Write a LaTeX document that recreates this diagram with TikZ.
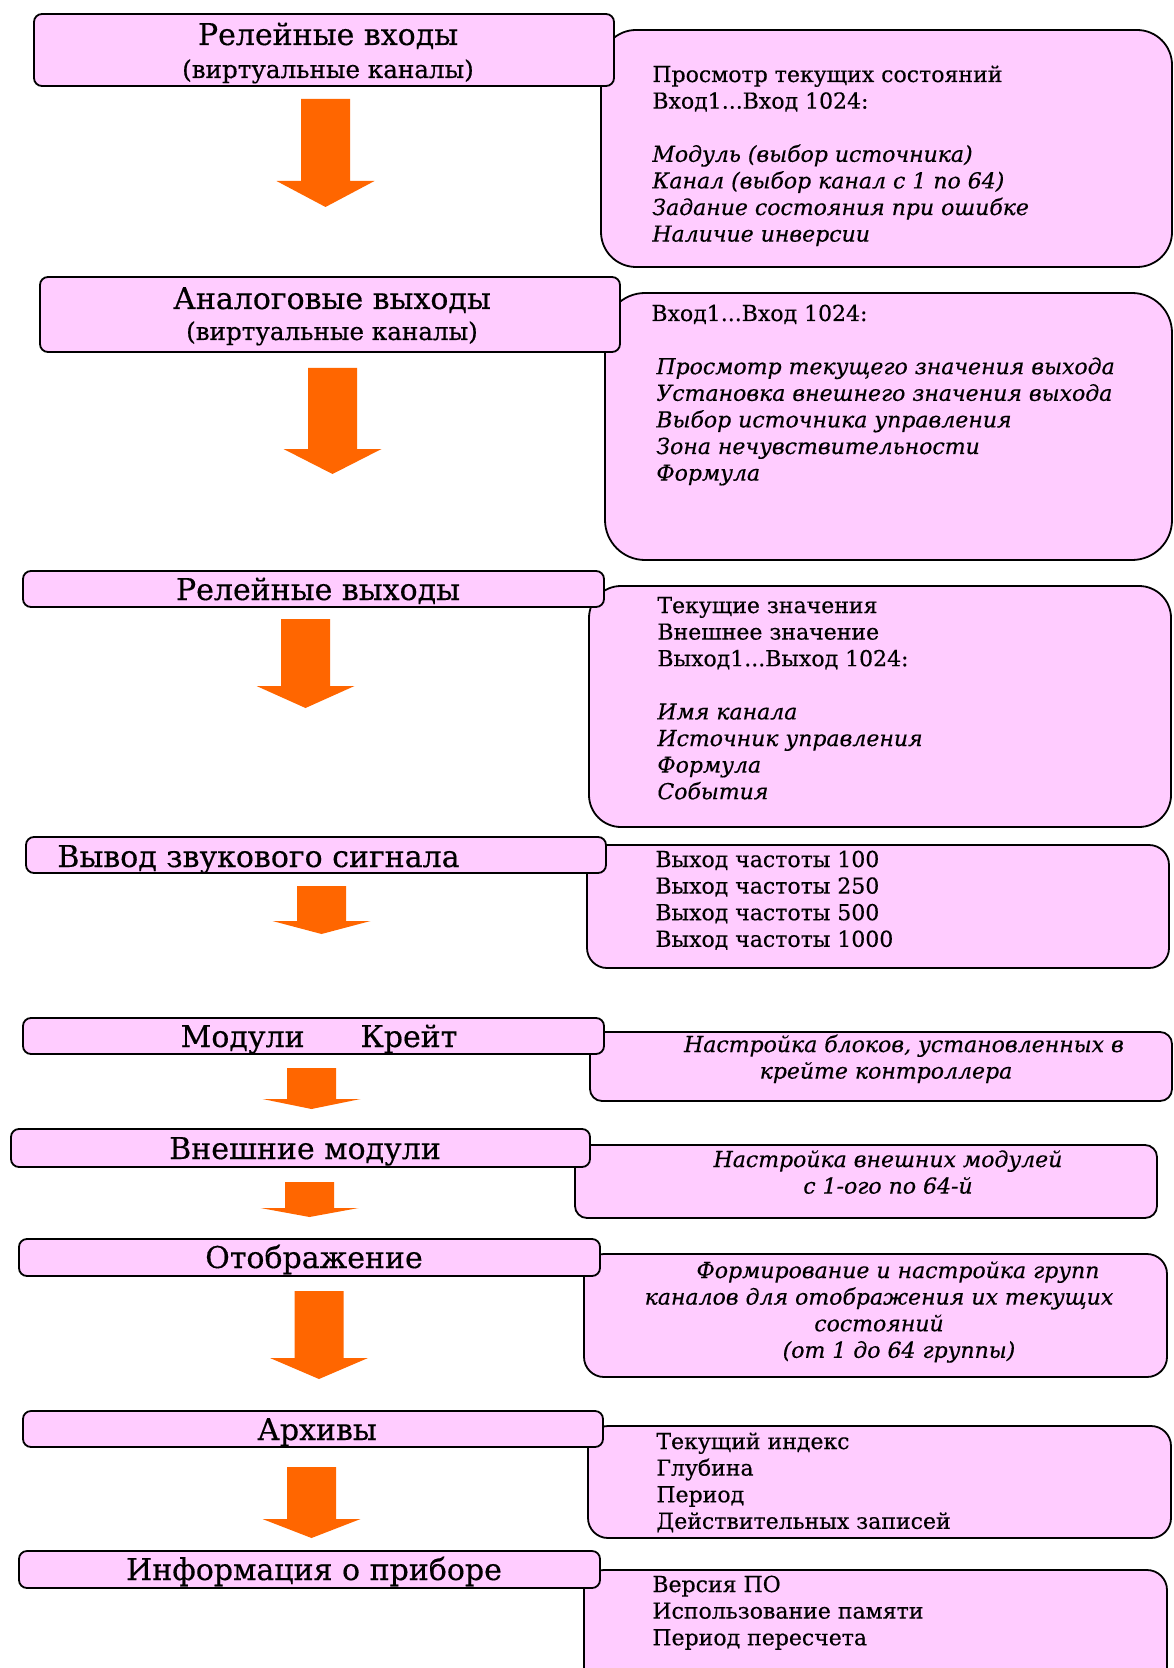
\documentclass[tikz,border=0pt]{standalone}
\usepackage{fontspec}
\setmainfont{DejaVu Serif}[FakeBold=0.4]
\definecolor{boxpink}{HTML}{FFCCFF}
\definecolor{arroworange}{HTML}{FF6600}
\newcommand{\lns}[1]{\begin{tabular}[t]{@{}l@{}}#1\end{tabular}}
\newcommand{\clns}[1]{\begin{tabular}[t]{@{}c@{}}#1\end{tabular}}
\newcommand{\shiftr}[2]{\hspace*{#1}#2\hspace*{-#1}}
% box node: name, style, x1, y1, x2, y2 (pixel units)
\newcommand{\pbox}[6]{\node[#2, minimum width={(#5-#3)*0.5pt}, minimum height={(#6-#4)*0.5pt}] (#1) at ({(#3+#5)/2},{(#4+#6)/2}) {};}
% block arrow: centre x, top y, head y, tip y
\newcommand{\barrow}[4]{\fill[arroworange] ({#1-24.5},#2) -- ({#1+24.5},#2) -- ({#1+24.5},#3) -- ({#1+49},#3) -- (#1,#4) -- ({#1-49},#3) -- ({#1-24.5},#3) -- cycle;}
\begin{document}
\begin{tikzpicture}[x=0.5pt,y=-0.5pt,
  leftbox/.style={draw=black, fill=boxpink, line width=0.9pt, rounded corners=4pt, inner sep=0pt},
  rightbox/.style={draw=black, fill=boxpink, line width=0.9pt, inner sep=0pt},
  titlefont/.style={font=\fontsize{15pt}{18pt}\selectfont, inner sep=0pt},
  subfont/.style={font=\fontsize{12.3pt}{14pt}\selectfont, inner sep=0pt},
  rtext/.style={font=\fontsize{11pt}{13.3pt}\selectfont, inner sep=0pt}]
\path[use as bounding box, clip] (0,0) rectangle (1173,1668);
\fill[white] (0,0) rectangle (1173,1668);

% right-hand boxes (behind)
\pbox{R1}{rightbox, rounded corners=17.5pt}{601}{30}{1172}{267}
\pbox{R2}{rightbox, rounded corners=20pt}{605}{293}{1172}{560}
\pbox{R3}{rightbox, rounded corners=16pt}{589}{586}{1171}{827}
\pbox{R4}{rightbox, rounded corners=10pt}{587}{845}{1169}{968}
\pbox{R5}{rightbox, rounded corners=6pt}{590}{1032}{1172}{1101}
\pbox{R6}{rightbox, rounded corners=6pt}{575}{1145}{1157}{1218}
\pbox{R7}{rightbox, rounded corners=10pt}{584}{1254}{1167}{1377}
\pbox{R8}{rightbox, rounded corners=10pt}{588}{1426}{1171}{1538}
\pbox{R9}{rightbox, rounded corners=10pt}{584}{1570}{1167}{1700}

% left-hand boxes
\pbox{L1}{leftbox}{34}{14}{614}{86}
\pbox{L2}{leftbox}{40}{277}{620}{352}
\pbox{L3}{leftbox}{23}{571}{604}{607}
\pbox{L4}{leftbox}{26}{837}{606}{873}
\pbox{L5}{leftbox}{23}{1018}{604}{1054}
\pbox{L6}{leftbox}{11}{1129}{590}{1167}
\pbox{L7}{leftbox}{19}{1239}{600}{1276}
\pbox{L8}{leftbox}{23}{1411}{603}{1447}
\pbox{L9}{leftbox}{19}{1551}{600}{1588}

% arrows
\barrow{325.5}{99}{181}{207}
\barrow{332.5}{368}{449}{474}
\barrow{305.5}{619}{686}{708}
\barrow{321.5}{886}{921}{934}
\barrow{311.5}{1068}{1099}{1109}
\barrow{309.5}{1182}{1208}{1217}
\barrow{319}{1291}{1358}{1379}
\barrow{311.5}{1467}{1519}{1538}

% left titles
\node[titlefont, anchor=base] (t1) at (328,45) {Релейные входы};
\node[subfont, anchor=base] (s1) at (328,78) {(виртуальные каналы)};
\node[titlefont, anchor=base] (t2) at (332,309) {Аналоговые выходы};
\node[subfont, anchor=base] (s2) at (332,340) {(виртуальные каналы)};
\node[titlefont, anchor=base] (t3) at (318,600) {Релейные выходы};
\node[titlefont, anchor=base west] (t4) at (57,867) {Вывод звукового сигнала};
\node[titlefont, anchor=base] (t5) at (319,1047) {Модули\hspace{28pt}Крейт};
\node[titlefont, anchor=base] (t6) at (305,1159) {Внешние модули};
\node[titlefont, anchor=base] (t7) at (314,1268) {Отображение};
\node[titlefont, anchor=base] (t8) at (317,1440) {Архивы};
\node[titlefont, anchor=base] (t9) at (314,1580) {Информация о приборе};

% right texts
\node[rtext, anchor=base west] (r1) at (652,82) {\lns{Просмотр текущих состояний\\Вход1...Вход 1024:\\ \\
  \itshape Модуль (выбор источника)\\ \itshape Канал (выбор канал с 1 по 64)\\
  \itshape Задание состояния при ошибке\\ \itshape Наличие инверсии}};
\node[rtext, anchor=base west] (r2) at (651,321) {\lns{Вход1...Вход 1024:\\ \\
  \hspace*{2.5pt}\itshape Просмотр текущего значения выхода\\
  \hspace*{2.5pt}\itshape Установка внешнего значения выхода\\
  \hspace*{2.5pt}\itshape Выбор источника управления\\
  \hspace*{2.5pt}\itshape Зона нечувствительности\\
  \hspace*{2.5pt}\itshape Формула}};
\node[rtext, anchor=base west] (r3) at (657,613) {\lns{Текущие значения\\Внешнее значение\\Выход1...Выход 1024:\\ \\
  \itshape Имя канала\\ \itshape Источник управления\\ \itshape Формула\\ \itshape События}};
\node[rtext, anchor=base west] (r4) at (655,867) {\lns{Выход частоты 100\\Выход частоты 250\\Выход частоты 500\\Выход частоты 1000}};
\node[rtext, anchor=base] (r5) at (886,1052) {\clns{\itshape\shiftr{9pt}{Настройка блоков, установленных в}\\ \itshape крейте контроллера}};
\node[rtext, anchor=base] (r6) at (888,1167) {\clns{\itshape Настройка внешних модулей\\ \itshape с 1-ого по 64-й}};
\node[rtext, anchor=base] (r7) at (879,1278) {\clns{\itshape\shiftr{9.5pt}{Формирование и настройка групп}\\
  \itshape каналов для отображения их текущих\\ \itshape состояний\\
  \itshape\shiftr{10pt}{(от 1 до 64 группы)}}};
\node[rtext, anchor=base west] (r8) at (656,1449) {\lns{Текущий индекс\\Глубина\\Период\\Действительных записей}};
\node[rtext, anchor=base west] (r9) at (652,1592) {\lns{Версия ПО\\Использование памяти\\Период пересчета}};
\end{tikzpicture}
\end{document}
